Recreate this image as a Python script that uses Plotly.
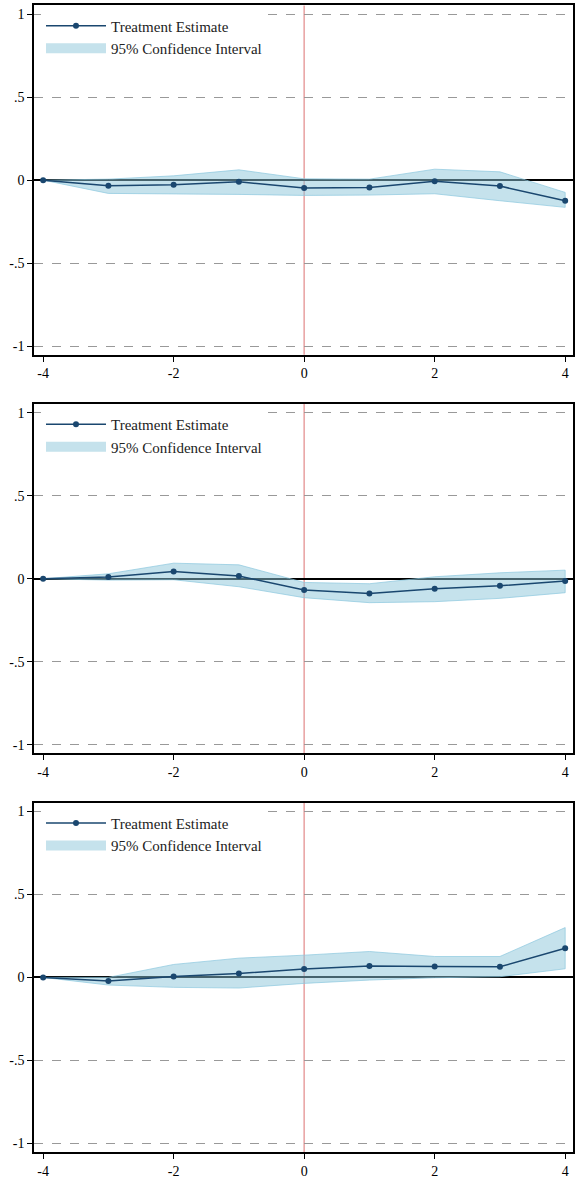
import plotly.graph_objects as go

# Event time relative to treatment
periods = [-4, -3, -2, -1, 0, 1, 2, 3, 4]

# Panel A
est_a = [0.0, -0.034, -0.028, -0.010, -0.048, -0.044, -0.006, -0.036, -0.124]
lo_a = [0.0, -0.080, -0.084, -0.086, -0.092, -0.090, -0.082, -0.124, -0.164]
hi_a = [0.0, 0.006, 0.026, 0.062, 0.008, 0.006, 0.066, 0.050, -0.074]

# Panel B
est_b = [0.0, 0.010, 0.044, 0.016, -0.068, -0.088, -0.060, -0.042, -0.014]
lo_b = [0.0, -0.008, -0.006, -0.048, -0.114, -0.144, -0.138, -0.118, -0.084]
hi_b = [0.0, 0.030, 0.094, 0.084, -0.022, -0.030, 0.012, 0.036, 0.052]

# Panel C
est_c = [0.0, -0.022, 0.006, 0.024, 0.050, 0.068, 0.066, 0.064, 0.176]
lo_c = [0.0, -0.046, -0.060, -0.064, -0.036, -0.016, -0.002, 0.004, 0.052]
hi_c = [0.0, 0.000, 0.078, 0.116, 0.134, 0.156, 0.126, 0.126, 0.300]

y_ticks = [-1, -0.5, 0, 0.5, 1]
y_labels = ["-1", "-.5", "0", ".5", "1"]
x_ticks = [-4, -2, 0, 2, 4]
x_labels = ["-4", "-2", "0", "2", "4"]

W, H = 575, 1179
H_GRID = 1174  # vertical reference used for the panel domains
NAVY = "#1a476f"
FILL = "rgba(140,198,218,0.5)"
EDGE = "rgba(140,200,222,0.7)"
FONT = "Liberation Serif, Times New Roman, DejaVu Serif, serif"

panels = [(est_a, lo_a, hi_a), (est_b, lo_b, hi_b), (est_c, lo_c, hi_c)]
# plot-area extents (top, bottom) of each panel
boxes = [(5.5, 356), (405.5, 756), (805.5, 1156)]
x_left, x_right = 34, 573

fig = go.Figure()
layout = {}
for i, ((est, lo, hi), (top, bot)) in enumerate(zip(panels, boxes)):
    n = "" if i == 0 else str(i + 1)
    xa, ya = "x" + n, "y" + n
    lg = "legend" + n
    # confidence band as a closed polygon
    fig.add_trace(go.Scatter(
        x=periods + periods[::-1], y=hi + lo[::-1],
        fill="toself", fillcolor=FILL, mode="lines",
        line=dict(color=EDGE, width=1), showlegend=False,
        xaxis=xa, yaxis=ya, hoverinfo="skip"))
    # legend swatch for the band
    fig.add_trace(go.Scatter(
        x=[None], y=[None], mode="lines",
        line=dict(color="rgba(140,198,218,0.5)", width=16),
        name="95% Confidence Interval", legendrank=2,
        xaxis=xa, yaxis=ya, legend=lg))
    fig.add_trace(go.Scatter(
        x=periods, y=est, mode="lines+markers",
        line=dict(color=NAVY, width=1.5),
        marker=dict(color=NAVY, size=6),
        name="Treatment Estimate", legendrank=1,
        xaxis=xa, yaxis=ya, legend=lg))
    layout["xaxis" + n] = dict(
        domain=[x_left / W, x_right / W], range=[-4.14, 4.12],
        anchor=ya, tickvals=x_ticks, ticktext=x_labels, ticks="outside",
        ticklen=5, tickcolor="black", showgrid=False, zeroline=False,
        showline=True, linecolor="black", linewidth=1.5, mirror=True,
        tickfont=dict(family=FONT, size=14, color="black"))
    layout["yaxis" + n] = dict(
        domain=[(H_GRID - bot) / H_GRID, (H_GRID - top) / H_GRID],
        range=[-1.052, 1.052],
        anchor=xa, tickvals=y_ticks, ticktext=y_labels, ticks="outside",
        ticklen=5, tickcolor="black", showgrid=True, gridcolor="#999999",
        griddash="dash", gridwidth=1, zeroline=True, zerolinecolor="black",
        zerolinewidth=2, showline=True, linecolor="black", linewidth=1.5,
        mirror=True, tickfont=dict(family=FONT, size=14, color="black"))
    layout[lg] = dict(
        x=(x_left + 7) / W, y=(H_GRID - top - 4) / H_GRID,
        xanchor="left", yanchor="top",
        bgcolor="white", borderwidth=0, itemwidth=60, tracegroupgap=0,
        font=dict(family=FONT, size=15, color="#222222"))
    fig.add_shape(type="line", xref=xa, yref=ya + " domain", x0=0, x1=0,
                  y0=0, y1=1, line=dict(color="#e8a0a0", width=1.5),
                  layer="below")

fig.update_layout(
    width=W, height=H, margin=dict(l=0, r=0, t=0, b=0),
    paper_bgcolor="white", plot_bgcolor="white", showlegend=True,
    font=dict(family=FONT),
    **layout)
fig.write_html("out.html")
